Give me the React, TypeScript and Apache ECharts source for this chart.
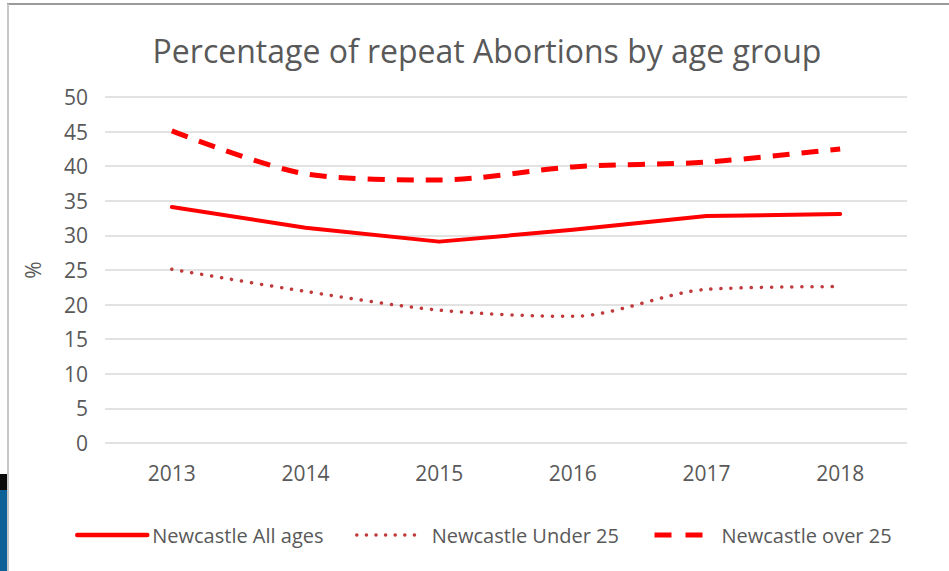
import React, { useEffect, useRef } from "react";
import * as echarts from "echarts";

const years = ["2013", "2014", "2015", "2016", "2017", "2018"];
const allAges = [34.1, 31.1, 29.1, 30.8, 32.8, 33.1];
const under25 = [25.1, 21.9, 19.2, 18.3, 22.2, 22.6];
const over25 = [45.1, 38.9, 38.0, 39.9, 40.6, 42.5];
const seriesNames = ["Newcastle All ages", "Newcastle Under 25", "Newcastle over 25"];
const titleText = "Percentage of repeat Abortions by age group";

const FONT = "'Open Sans', 'Liberation Sans', sans-serif";
const GRAY = "#595959";

export default function App() {
  const ref = useRef<HTMLDivElement>(null);
  useEffect(() => {
    if (!ref.current) return;
    const chart = echarts.init(ref.current, undefined, { renderer: "svg" });
    const legendText = { color: GRAY, fontSize: 20, fontFamily: FONT };
    const hidden = { opacity: 0 };
    chart.setOption({
      animation: false,
      backgroundColor: "#ffffff",
      title: {
        text: titleText,
        left: 482,
        top: 29,
        textAlign: "center",
        textStyle: { color: GRAY, fontSize: 32, fontWeight: "normal", fontFamily: FONT },
      },
      grid: { left: 105, right: 42, top: 97, bottom: 128, containLabel: false },
      xAxis: {
        type: "category",
        data: years,
        boundaryGap: true,
        axisLine: { show: false },
        axisTick: { show: false },
        axisLabel: { color: GRAY, fontSize: 21, fontFamily: FONT, margin: 19 },
      },
      yAxis: {
        type: "value",
        min: 0,
        max: 50,
        interval: 5,
        name: "%",
        nameLocation: "middle",
        nameGap: 62,
        nameRotate: 90,
        nameTextStyle: { color: GRAY, fontSize: 21, fontFamily: FONT },
        axisLine: { show: false },
        axisTick: { show: false },
        axisLabel: { color: GRAY, fontSize: 21, fontFamily: FONT, margin: 17 },
        splitLine: { lineStyle: { color: "#d9d9d9", width: 1.5 } },
      },
      legend: [
        {
          data: [seriesNames[0]],
          left: 75,
          top: 525,
          padding: 0,
          itemWidth: 70,
          itemHeight: 14,
          textStyle: legendText,
          itemStyle: hidden,
          lineStyle: { color: "#ff0000", width: 4.5, type: "solid", cap: "round" },
        },
        {
          data: [seriesNames[1]],
          left: 355,
          top: 525,
          padding: 0,
          itemWidth: 66,
          itemHeight: 14,
          textStyle: { ...legendText, padding: [0, 0, 0, 4] },
          itemStyle: hidden,
          lineStyle: { color: "#c0393b", width: 3.5, type: [0.1, 9.5], cap: "round" },
        },
        {
          data: [seriesNames[2]],
          left: 652,
          top: 525,
          padding: 0,
          itemWidth: 48,
          itemHeight: 14,
          textStyle: { ...legendText, padding: [0, 0, 0, 14] },
          itemStyle: hidden,
          lineStyle: { color: "#ff0000", width: 5, type: [17, 14], cap: "butt" },
        },
      ],
      series: [
        {
          name: seriesNames[0],
          type: "line",
          data: allAges,
          symbol: "none",
          color: "#ff0000",
          lineStyle: { color: "#ff0000", width: 4, cap: "round", join: "round" },
        },
        {
          name: seriesNames[1],
          type: "line",
          data: under25,
          symbol: "none",
          smooth: 0.3,
          color: "#c0393b",
          lineStyle: { color: "#c0393b", width: 3.5, type: [0.1, 10], cap: "round" },
        },
        {
          name: seriesNames[2],
          type: "line",
          data: over25,
          symbol: "none",
          smooth: 0.3,
          color: "#ff0000",
          lineStyle: { color: "#ff0000", width: 5, type: [17, 12], cap: "butt" },
        },
      ],
      graphic: [
        { type: "line", shape: { x1: 7, y1: 4, x2: 949, y2: 4 }, style: { stroke: "#9a9a9a", lineWidth: 2 }, silent: true },
        { type: "line", shape: { x1: 8, y1: 4, x2: 8, y2: 571 }, style: { stroke: "#c8c8c8", lineWidth: 2 }, silent: true },
        { type: "rect", shape: { x: 0, y: 474, width: 7, height: 16 }, style: { fill: "#0b0b0b" }, silent: true },
        { type: "rect", shape: { x: 0, y: 490, width: 7, height: 81 }, style: { fill: "#0d6196" }, silent: true },
      ],
    });
    return () => chart.dispose();
  }, []);
  return (
    <div
      ref={ref}
      style={{ position: "fixed", left: 0, top: 0, width: 949, height: 571 }}
    />
  );
}
